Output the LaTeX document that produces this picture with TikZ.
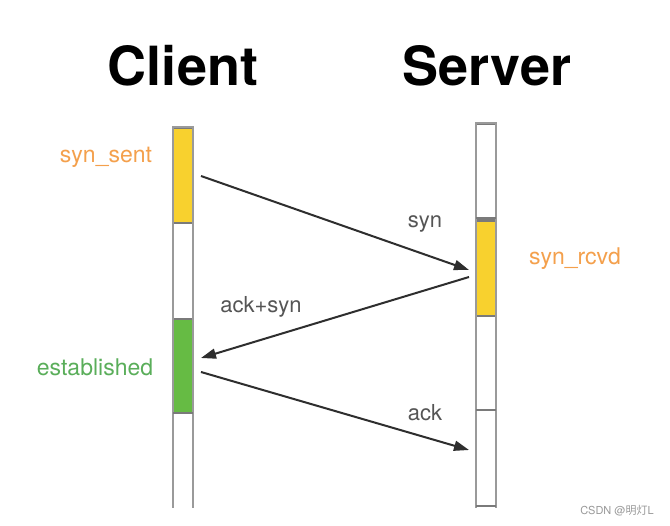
\documentclass[tikz,border=0pt]{standalone}
\usepackage{fontspec}
\setmainfont{TeX Gyre Heros}
\newfontfamily\cjk{Noto Sans CJK SC}
\usetikzlibrary{arrows.meta}
\definecolor{barborder}{HTML}{9A9A9A}
\definecolor{bardiv}{HTML}{7A7A7A}
\definecolor{synyellow}{HTML}{F8D12E}
\definecolor{estgreen}{HTML}{66BB44}
\definecolor{orangetxt}{HTML}{F4A04C}
\definecolor{greentxt}{HTML}{5AAE5A}
\definecolor{graytxt}{HTML}{555555}
\definecolor{arrowcol}{HTML}{2E2E2E}
\tikzset{
  seg/.style={draw=bardiv, line width=1.6pt, minimum width=20pt, inner sep=0pt, anchor=north},
  title/.style={font=\fontsize{54}{60}\selectfont\bfseries, text=black},
  statelbl/.style={font=\fontsize{23}{26}\selectfont},
  msglbl/.style={font=\fontsize{22}{26}\selectfont, text=graytxt},
  msg/.style={draw=arrowcol, line width=2pt, -{Triangle[length=15pt,width=10pt]}},
  frame/.style={draw=barborder, line width=2pt}
}
\begin{document}
\begin{tikzpicture}[x=1pt,y=-1pt]
\useasboundingbox[fill=white] (0,0) rectangle (670,526);
% titles
\node[title] (client) at (183,66) {Client};
\node[title] (server) at (487,66) {Server};
% client bar segments
\node[seg, fill=synyellow, minimum height=95pt] (c1) at (183,127) {};
\node[seg, fill=white, minimum height=96pt] (c2) at (183,222) {};
\node[seg, fill=estgreen, minimum height=95pt] (c3) at (183,318) {};
\node[seg, draw=none, fill=white, minimum height=95pt] (c4) at (183,413) {};
\draw[frame] (173,508) -- (173,127) -- (193,127) -- (193,508);
\draw[bardiv, line width=1.6pt] (173,413) -- (193,413);
% server bar segments
\node[seg, fill=white, minimum height=96pt] (s1) at (486,123) {};
\node[seg, fill=synyellow, minimum height=95pt] (s2) at (486,220) {};
\node[seg, fill=white, minimum height=95pt] (s3) at (486,315) {};
\node[seg, draw=none, fill=white, minimum height=96pt] (s4) at (486,410) {};
\draw[frame] (476,508) -- (476,123) -- (496,123) -- (496,508);
\draw[bardiv, line width=1.6pt] (476,218) -- (496,218);
\draw[bardiv, line width=1.2pt] (476,410) -- (496,410);
\draw[bardiv, line width=1.2pt] (476,506) -- (496,506);
% state labels
\node[statelbl, text=orangetxt] (synsent) at (106,157) {syn\_sent};
\node[statelbl, text=orangetxt] (synrcvd) at (575,259) {syn\_rcvd};
\node[statelbl, text=greentxt] (estab) at (95,367) {established};
% message endpoints
\coordinate (a1) at (201,176);
\coordinate (b1) at (469,270);
\coordinate (b2) at (469,277);
\coordinate (a2) at (201,358);
\coordinate (a3) at (201,372);
\coordinate (b3) at (469,450);
\draw[msg] (a1) -- (b1);
\draw[msg] (b2) -- (a2);
\draw[msg] (a3) -- (b3);
% message labels
\node[msglbl] (lsyn) at (425,224) {syn};
\node[msglbl] (lacksyn) at (261,307) {ack+syn};
\node[msglbl] (lack) at (425,413) {ack};
% watermark
\node[font=\fontsize{11}{13}\selectfont, text=gray!80] (wm) at (617,511) {CSDN @{\cjk 明灯}L};
\end{tikzpicture}
\end{document}
